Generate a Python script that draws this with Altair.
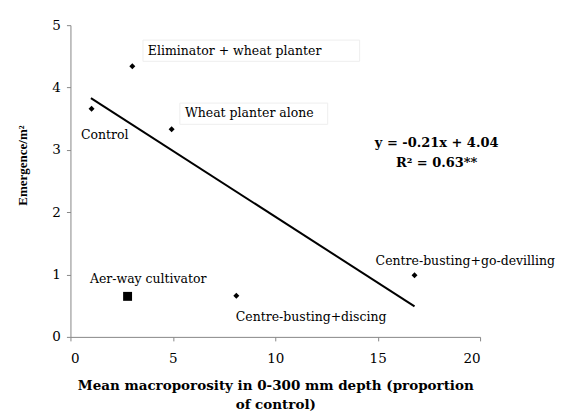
import altair as alt
import pandas as pd

# Data points
treatments = ["Control", "Eliminator + wheat planter", "Wheat planter alone",
              "Aer-way cultivator", "Centre-busting+discing", "Centre-busting+go-devilling"]
macroporosity = [1.03, 3.02, 4.94, 2.79, 8.1, 16.8]
emergence = [3.66, 4.34, 3.33, 0.65, 0.66, 0.99]
marker = ["diamond", "diamond", "diamond", "square", "diamond", "diamond"]

# Regression line endpoints (y = -0.21x + 4.04)
line_x = [1.0, 16.8]
line_y = [3.83, 0.49]

# Label anchor positions (data coordinates)
label_x = [0.51, 3.78, 5.59, 0.95, 8.07, 14.9]
label_y = [3.24, 4.58, 3.59, 0.93, 0.325, 1.22]

eq_text = ["y = -0.21x + 4.04", "R² = 0.63**"]
eq_x = [17.88, 17.88]
eq_y = [3.11, 2.79]

# faint boxes behind two labels
box_x = [3.54, 5.34]
box_x2 = [14.12, 12.56]
box_y = [4.42, 3.41]
box_y2 = [4.76, 3.75]

FONT = "DejaVu Serif"
YFONT = "Liberation Serif"

pts = pd.DataFrame({"x": macroporosity, "y": emergence, "treatment": treatments, "shape": marker})
lab = pd.DataFrame({"x": label_x, "y": label_y, "text": treatments})
reg = pd.DataFrame({"x": line_x, "y": line_y})
eq = pd.DataFrame({"x": eq_x, "y": eq_y, "text": eq_text})
boxes = pd.DataFrame({"x": box_x, "x2": box_x2, "y": box_y, "y2": box_y2})

xscale = alt.Scale(domain=[0, 20], nice=False)
yscale = alt.Scale(domain=[0, 5], nice=False)

xaxis = alt.Axis(values=[0, 5, 10, 15, 20], grid=False,
                 title=["Mean macroporosity in 0-300 mm depth (proportion", "of control)"],
                 labelPadding=11, titlePadding=13, titleFontSize=13.5, titleLineHeight=19)
yaxis = alt.Axis(values=[0, 1, 2, 3, 4, 5], grid=False, title="Emergence/m²",
                 titleFont=YFONT, titleFontSize=13, titlePadding=22, labelPadding=6,
                 titleY=140)

base_x = alt.X("x:Q", scale=xscale, axis=xaxis)
base_y = alt.Y("y:Q", scale=yscale, axis=yaxis)

box_layer = alt.Chart(boxes).mark_rect(fill="white", stroke="#eeeeee", strokeWidth=1).encode(
    x=alt.X("x:Q", scale=xscale, axis=xaxis), x2="x2:Q",
    y=alt.Y("y:Q", scale=yscale, axis=yaxis), y2="y2:Q")

line_layer = alt.Chart(reg).mark_line(color="black", strokeWidth=2).encode(x=base_x, y=base_y)

point_layer = alt.Chart(pts).mark_point(filled=True, color="black", opacity=1).encode(
    x=base_x, y=base_y,
    shape=alt.Shape("shape:N", scale=None, legend=None),
    size=alt.condition(alt.datum.shape == "square", alt.value(80), alt.value(36)))

label_layer = alt.Chart(lab).mark_text(align="left", baseline="middle", font=FONT,
                                        fontSize=12.5, color="black").encode(
    x=base_x, y=base_y, text="text:N")

eq_layer = alt.Chart(eq).mark_text(align="center", baseline="middle", font=FONT,
                                   fontSize=13, fontWeight="bold", color="black").encode(
    x=base_x, y=base_y, text="text:N")

chart = alt.layer(box_layer, line_layer, point_layer, label_layer, eq_layer).properties(
    width=410, height=312,
    autosize=alt.AutoSizeParams(type="none"),
    padding={"left": 62.5, "top": 17, "right": 80, "bottom": 84}
).configure_view(stroke=None).configure_axis(
    domainColor="#888888", tickColor="#888888", tickSize=4,
    labelFont=FONT, labelFontSize=13.5, labelColor="black",
    titleFont=FONT, titleFontWeight="bold", titleColor="black"
)

chart.save("out.html", embed_options={"renderer": "svg", "actions": False})
